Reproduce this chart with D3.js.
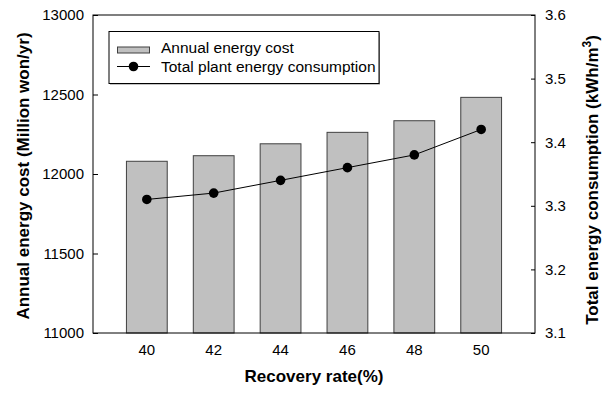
<!DOCTYPE html>
<html>
<head>
<meta charset="utf-8">
<script src="https://cdn.jsdelivr.net/npm/d3@7"></script>
<style>
    body { margin: 0; background: #fff; }
    text { font-family: "Liberation Sans", Arial, sans-serif; }
</style>
</head>
<body>
<div id="chart"></div>
<script>
const rates = [40, 42, 44, 46, 48, 50];
const annualCost = [12080, 12115, 12190, 12262, 12335, 12482];
const energyUse = [3.31, 3.32, 3.34, 3.36, 3.38, 3.42];
const costTicks = [11000, 11500, 12000, 12500, 13000];
const energyTicks = [3.1, 3.2, 3.3, 3.4, 3.5, 3.6];

const width = 610;
const height = 393;
const margin = { top: 15, right: 75, bottom: 60, left: 93 };
const plotW = width - margin.left - margin.right;
const plotH = height - margin.top - margin.bottom;

const svg = d3.select("#chart")
    .append("svg")
    .attr("width", width)
    .attr("height", height);

const g = svg.append("g")
    .attr("transform", `translate(${margin.left},${margin.top})`);

const x = d3.scaleBand()
    .domain(rates)
    .range([0, plotW])
    .paddingInner(0.39)
    .paddingOuter(0.5);

const yLeft = d3.scaleLinear().domain([11000, 13000]).range([plotH, 0]);
const yRight = d3.scaleLinear().domain([3.1, 3.6]).range([plotH, 0]);

// bars
g.selectAll("rect.bar")
    .data(annualCost)
    .enter()
    .append("rect")
    .attr("class", "bar")
    .attr("x", (d, i) => x(rates[i]))
    .attr("y", d => yLeft(d))
    .attr("width", x.bandwidth())
    .attr("height", d => plotH - yLeft(d))
    .attr("fill", "#c0c0c0")
    .attr("stroke", "#404040")
    .attr("stroke-width", 1);

// line + dots
const line = d3.line()
    .x((d, i) => x(rates[i]) + x.bandwidth() / 2)
    .y(d => yRight(d));

g.append("path")
    .datum(energyUse)
    .attr("d", line)
    .attr("fill", "none")
    .attr("stroke", "#000")
    .attr("stroke-width", 1);

g.selectAll("circle.pt")
    .data(energyUse)
    .enter()
    .append("circle")
    .attr("class", "pt")
    .attr("cx", (d, i) => x(rates[i]) + x.bandwidth() / 2)
    .attr("cy", d => yRight(d))
    .attr("r", 4.8)
    .attr("fill", "#000");

// frame
g.append("rect")
    .attr("width", plotW)
    .attr("height", plotH)
    .attr("fill", "none")
    .attr("stroke", "#000")
    .attr("stroke-width", 1);

// axes
const leftAxis = d3.axisLeft(yLeft)
    .tickValues(costTicks)
    .tickSize(-5)
    .tickPadding(9)
    .tickFormat(d3.format("d"));
const la = g.append("g").call(leftAxis);

const rightAxis = d3.axisRight(yRight)
    .tickValues(energyTicks)
    .tickSize(-4)
    .tickPadding(10)
    .tickFormat(d3.format(".1f"));
const ra = g.append("g").attr("transform", `translate(${plotW},0)`).call(rightAxis);

const bottomAxis = d3.axisBottom(x).tickSize(0).tickPadding(11);
const ba = g.append("g").attr("transform", `translate(0,${plotH})`).call(bottomAxis);

[la, ra, ba].forEach(a => {
    a.select(".domain").remove();
    a.selectAll("text")
        .style("font-family", "'Liberation Sans', Arial, sans-serif")
        .style("font-size", "15px")
        .attr("fill", "#000");
    a.selectAll("line").attr("stroke", "#000");
});

// axis titles
svg.append("text")
    .attr("transform", `translate(29,176) rotate(-90)`)
    .attr("text-anchor", "middle")
    .style("font-size", "17px")
    .style("font-weight", "bold")
    .text("Annual energy cost (Million won/yr)");

const rt = svg.append("text")
    .attr("transform", `translate(598,180) rotate(-90)`)
    .attr("text-anchor", "middle")
    .style("font-size", "17px")
    .style("font-weight", "bold");
rt.append("tspan").text("Total energy consumption (kWh/m");
rt.append("tspan").attr("dy", -7).style("font-size", "12px").text("3");
rt.append("tspan").attr("dy", 7).text(")");

svg.append("text")
    .attr("x", margin.left + plotW / 2)
    .attr("y", 382)
    .attr("text-anchor", "middle")
    .style("font-size", "17px")
    .style("font-weight", "bold")
    .text("Recovery rate(%)");

// legend
const legend = svg.append("g").attr("transform", "translate(109,31.5)");
legend.append("rect")
    .attr("x", 1).attr("y", 1)
    .attr("width", 270)
    .attr("height", 52)
    .attr("fill", "#888");
legend.append("rect")
    .attr("width", 270)
    .attr("height", 52)
    .attr("fill", "#fff")
    .attr("stroke", "#000");
legend.append("rect")
    .attr("x", 8.5).attr("y", 15.5)
    .attr("width", 32).attr("height", 6)
    .attr("fill", "#c0c0c0")
    .attr("stroke", "#404040");
legend.append("text")
    .attr("x", 52).attr("y", 21.5)
    .style("font-size", "15.5px")
    .text("Annual energy cost");
legend.append("line")
    .attr("x1", 8).attr("x2", 41)
    .attr("y1", 35).attr("y2", 35)
    .attr("stroke", "#000");
legend.append("circle")
    .attr("cx", 24.5).attr("cy", 35).attr("r", 4.8)
    .attr("fill", "#000");
legend.append("text")
    .attr("x", 52).attr("y", 40)
    .style("font-size", "15.5px")
    .text("Total plant energy consumption");
</script>
</body>
</html>
